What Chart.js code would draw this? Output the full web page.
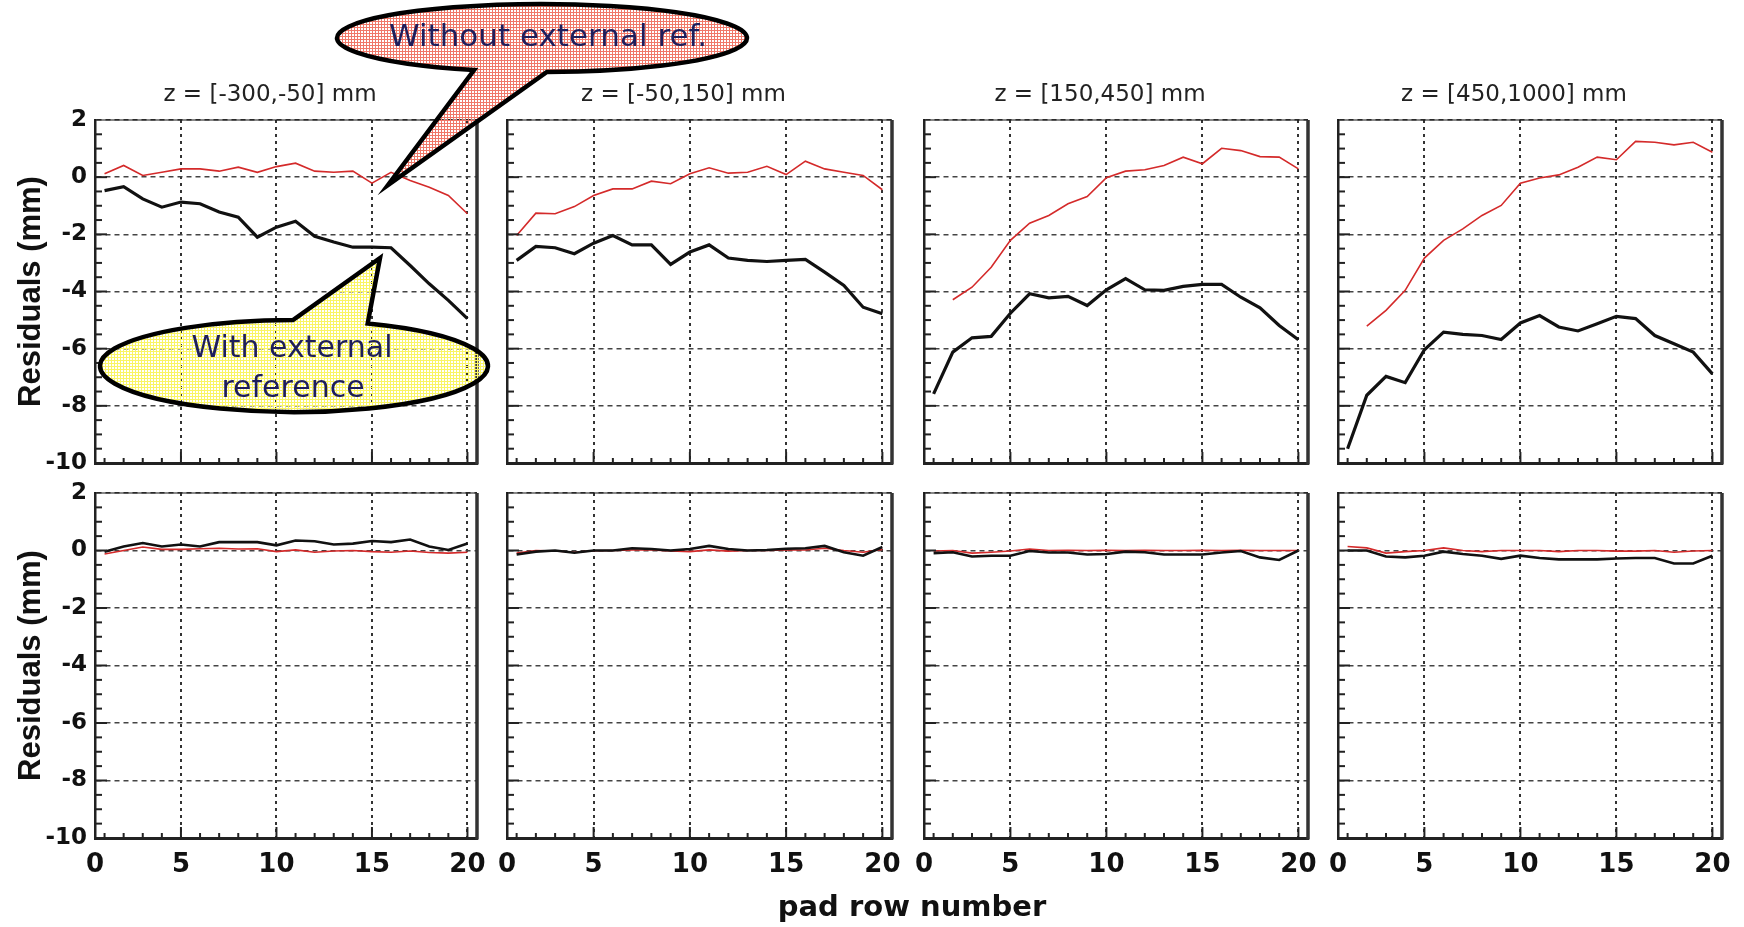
<!DOCTYPE html>
<html>
<head>
<meta charset="utf-8">
<script src="https://cdn.jsdelivr.net/npm/chart.js@4.4.0/dist/chart.umd.min.js"></script>
<style>
  html, body { margin: 0; padding: 0; background: #fff; }
  body { width: 1744px; height: 927px; position: relative; overflow: hidden; }
  canvas { position: absolute; }
</style>
</head>
<body>
<script>
// pad rows along x, z ranges per column
const padRows = [1, 2, 3, 4, 5, 6, 7, 8, 9, 10, 11, 12, 13, 14, 15, 16, 17, 18, 19, 20];
const zRanges = ['z = [-300,-50] mm', 'z = [-50,150] mm', 'z = [150,450] mm', 'z = [450,1000] mm'];
const xTickLabels = [0, 5, 10, 15, 20];
const yTickStep = 2;

// top row: red = without external ref, black = with external reference
const topRed1 = [0.12, 0.41, 0.06, 0.17, 0.29, 0.29, 0.21, 0.35, 0.17, 0.37, 0.49, 0.21, 0.17, 0.21, -0.21, 0.17, -0.12, -0.35, -0.64, -1.28];
const topBlack1 = [-0.47, -0.33, -0.76, -1.05, -0.87, -0.93, -1.22, -1.40, -2.10, -1.75, -1.54, -2.07, -2.27, -2.45, -2.45, -2.47, -3.09, -3.73, -4.31, -4.95];
const topRed2 = [-2.04, -1.26, -1.28, -1.03, -0.64, -0.41, -0.41, -0.14, -0.23, 0.12, 0.33, 0.14, 0.17, 0.38, 0.09, 0.56, 0.29, 0.17, 0.06, -0.44];
const topBlack2 = [-2.91, -2.42, -2.47, -2.68, -2.31, -2.04, -2.37, -2.37, -3.05, -2.62, -2.37, -2.83, -2.91, -2.95, -2.91, -2.88, -3.32, -3.79, -4.55, -4.78];
const topRed3 = [null, -4.29, -3.85, -3.15, -2.21, -1.61, -1.34, -0.93, -0.68, -0.02, 0.21, 0.26, 0.41, 0.70, 0.47, 1.01, 0.93, 0.72, 0.70, 0.29];
const topBlack3 = [-7.58, -6.12, -5.62, -5.57, -4.76, -4.08, -4.22, -4.17, -4.49, -3.94, -3.55, -3.94, -3.96, -3.82, -3.75, -3.75, -4.20, -4.57, -5.19, -5.69];
const topRed4 = [null, -5.21, -4.66, -3.96, -2.83, -2.21, -1.81, -1.34, -0.99, -0.21, -0.03, 0.08, 0.35, 0.70, 0.61, 1.25, 1.22, 1.13, 1.22, 0.87];
const topBlack4 = [-9.50, -7.63, -6.97, -7.19, -6.04, -5.42, -5.50, -5.54, -5.68, -5.10, -4.84, -5.24, -5.38, -5.13, -4.87, -4.95, -5.54, -5.83, -6.12, -6.88];

// bottom row
const botRed1 = [-0.12, 0.00, 0.12, 0.04, 0.04, 0.06, 0.08, 0.05, 0.06, -0.04, 0.02, -0.06, -0.02, 0.00, -0.04, -0.06, -0.02, -0.07, -0.09, -0.06];
const botBlack1 = [-0.04, 0.14, 0.26, 0.14, 0.21, 0.14, 0.29, 0.29, 0.29, 0.18, 0.35, 0.32, 0.21, 0.24, 0.33, 0.29, 0.38, 0.14, 0.02, 0.24];
const botRed2 = [-0.09, 0.00, -0.02, -0.06, -0.01, 0.00, 0.02, 0.02, -0.02, -0.04, 0.02, -0.02, 0.00, 0.00, 0.02, 0.02, 0.08, 0.00, -0.06, 0.04];
const botBlack2 = [-0.14, -0.04, 0.00, -0.08, 0.00, 0.00, 0.08, 0.05, 0.00, 0.05, 0.16, 0.05, 0.00, 0.02, 0.06, 0.08, 0.16, -0.06, -0.18, 0.12];
const botRed3 = [-0.02, 0.00, -0.09, -0.06, -0.02, 0.05, 0.00, 0.01, 0.00, 0.01, 0.00, 0.01, 0.00, 0.00, 0.01, 0.00, 0.01, 0.00, 0.00, 0.00];
const botBlack3 = [-0.09, -0.06, -0.21, -0.18, -0.18, -0.02, -0.07, -0.07, -0.14, -0.12, -0.04, -0.06, -0.14, -0.14, -0.14, -0.07, -0.02, -0.24, -0.33, 0.00];
const botRed4 = [0.14, 0.09, -0.09, -0.04, 0.00, 0.09, 0.00, -0.04, 0.00, 0.00, 0.00, -0.04, 0.00, 0.00, -0.02, -0.02, 0.00, -0.06, -0.02, 0.00];
const botBlack4 = [0.00, 0.00, -0.21, -0.24, -0.18, -0.04, -0.12, -0.18, -0.29, -0.18, -0.26, -0.31, -0.31, -0.31, -0.28, -0.26, -0.26, -0.45, -0.45, -0.18];

const tickFont = 'DejaVu Sans';
const noteColor = '#1e1e5c';

function toPoints(vals) {
  return padRows.map((r, i) => ({ x: r, y: vals[i] }));
}

// hatched fill like the original callouts
function hatch(color) {
  const t = document.createElement('canvas');
  t.width = 3; t.height = 3;
  const g = t.getContext('2d');
  g.fillStyle = color;
  g.fillRect(0, 0, 3, 1);
  g.fillRect(0, 0, 1, 3);
  return g.createPattern(t, 'repeat');
}

// box frame + inner ticks like ROOT
const framePlugin = {
  id: 'frame',
  afterDraw(chart) {
    const { ctx, chartArea: a, scales } = chart;
    ctx.save();
    ctx.strokeStyle = '#222';
    ctx.lineWidth = 2;
    for (let v = -9.5; v < 2; v += 0.5) {
      const y = scales.y.getPixelForValue(v);
      const len = (v % 2 === 0) ? 12 : 7;
      ctx.beginPath(); ctx.moveTo(a.left, y); ctx.lineTo(a.left + len, y); ctx.stroke();
    }
    for (let v = 1; v <= 20; v++) {
      const x = scales.x.getPixelForValue(v);
      const len = (v % 5 === 0) ? 11 : 5;
      ctx.beginPath(); ctx.moveTo(x, a.bottom); ctx.lineTo(x, a.bottom - len); ctx.stroke();
    }
    ctx.strokeStyle = '#111';
    ctx.lineWidth = 1.2;
    ctx.beginPath(); ctx.moveTo(a.left, a.top); ctx.lineTo(a.right, a.top); ctx.stroke();
    ctx.strokeStyle = '#333';
    ctx.lineWidth = 3.5;
    ctx.beginPath(); ctx.moveTo(a.right, a.top); ctx.lineTo(a.right, a.bottom + 1.5); ctx.stroke();
    ctx.restore();
  }
};

const panelTitlePlugin = {
  id: 'panelTitle',
  afterDraw(chart, args, opts) {
    if (!opts.text) return;
    const { ctx, chartArea: a } = chart;
    ctx.save();
    ctx.font = '23px "DejaVu Sans"';
    ctx.fillStyle = '#222';
    ctx.textAlign = 'center';
    ctx.textBaseline = 'middle';
    ctx.fillText(opts.text, (a.left + a.right) / 2 - 16, a.top - 25);
    ctx.restore();
  }
};

const xTitlePlugin = {
  id: 'xTitle',
  afterDraw(chart, args, opts) {
    if (!opts.text) return;
    const { ctx, chartArea: a } = chart;
    ctx.save();
    ctx.font = 'bold 29px "DejaVu Sans"';
    ctx.fillStyle = '#111';
    ctx.textAlign = 'center';
    ctx.textBaseline = 'middle';
    ctx.fillText(opts.text, a.left + 817, a.bottom + 70);
    ctx.restore();
  }
};

function drawCallout(ctx, a, b) {
  const cx = a.left + b.cx, cy = a.top + b.cy;
  const ang = p => Math.atan2((a.top + p[1] - cy) / b.ry, (a.left + p[0] - cx) / b.rx);
  ctx.save();
  ctx.beginPath();
  ctx.ellipse(cx, cy, b.rx, b.ry, 0, ang(b.from), ang(b.to), false);
  ctx.lineTo(a.left + b.tip[0], a.top + b.tip[1]);
  ctx.closePath();
  ctx.fillStyle = hatch(b.fill);
  ctx.fill();
  ctx.lineWidth = 4.5;
  ctx.lineJoin = 'miter';
  ctx.strokeStyle = '#000';
  ctx.stroke();
  ctx.fillStyle = noteColor;
  ctx.font = b.size + 'px "DejaVu Sans"';
  ctx.textAlign = 'center';
  ctx.textBaseline = 'middle';
  b.lines.forEach(l => ctx.fillText(l.text, a.left + l.x, a.top + l.y));
  ctx.restore();
}

const calloutPlugin = {
  id: 'callouts',
  afterDraw(chart, args, opts) {
    if (!opts.items) return;
    opts.items.forEach(b => drawCallout(chart.ctx, chart.chartArea, b));
  }
};

const callouts = [
  { cx: 447, cy: -82, rx: 205, ry: 34, from: [375, -48], to: [452, -47], tip: [293, 65],
    fill: 'rgb(240,120,105)', size: 31, lines: [{ text: 'Without external ref.', x: 453, y: -82 }] },
  { cx: 199, cy: 246, rx: 194, ry: 46, from: [270, 205], to: [198, 200], tip: [285, 138],
    fill: 'rgb(250,245,100)', size: 30, lines: [{ text: 'With external', x: 197, y: 229 }, { text: 'reference', x: 198, y: 269 }] }
];

function makePanel(p) {
  const c = document.createElement('canvas');
  c.width = p.w; c.height = p.h;
  c.style.left = p.x + 'px';
  c.style.top = p.y + 'px';
  c.style.zIndex = p.z || 1;
  document.body.appendChild(c);

  new Chart(c, {
    type: 'line',
    data: {
      datasets: [
        { label: 'With external reference', data: toPoints(p.black), borderColor: '#111',
          borderWidth: p.bottomRow ? 2.6 : 3.2, pointRadius: 0, tension: 0, fill: false },
        { label: 'Without external ref.', data: toPoints(p.red), borderColor: '#d42a2a',
          borderWidth: 1.6, pointRadius: 0, tension: 0, fill: false }
      ]
    },
    options: {
      responsive: false,
      animation: false,
      events: [],
      layout: { autoPadding: false, padding: { top: p.padTop, right: p.padRight, bottom: p.padBottom || 0, left: 0 } },
      scales: {
        x: {
          type: 'linear', min: 0.5, max: 20.5,
          afterBuildTicks: s => { s.ticks = xTickLabels.map(v => ({ value: v === 0 ? 0.5 : v })); },
          afterFit: s => { s.height = p.xh; },
          ticks: {
            display: p.bottomRow, autoSkip: false, maxRotation: 0, padding: 12, color: '#111',
            font: { family: tickFont, weight: 'bold', size: 26 },
            callback: v => (v < 1 ? '0' : String(v))
          },
          grid: { color: '#333', lineWidth: 2, drawTicks: false },
          border: { color: '#222', width: 3, dash: [3, 4] }
        },
        y: {
          min: -10, max: 2,
          afterFit: s => { s.width = p.yw; },
          ticks: {
            stepSize: yTickStep, display: p.firstCol, padding: 8, color: '#111',
            font: { family: tickFont, weight: 'bold', size: 23 }
          },
          grid: { color: '#444', lineWidth: 1.6, drawTicks: false },
          border: { color: '#222', width: 2.5, dash: [5, 4] },
          title: {
            display: p.firstCol, text: 'Residuals (mm)', color: '#111',
            font: { family: 'Liberation Sans, Arial, sans-serif', size: 31, weight: 'bold' },
            padding: { top: 13, bottom: 0 }
          }
        }
      },
      plugins: {
        legend: { display: false },
        tooltip: { enabled: false },
        panelTitle: { text: p.title || '' },
        xTitle: { text: p.xTitle || '' },
        callouts: { items: p.callouts || null }
      }
    },
    plugins: [framePlugin, panelTitlePlugin, xTitlePlugin, calloutPlugin]
  });
}

const colLeft = [95, 507, 924, 1338];
const colWidth = [382, 385, 384, 384];
const topReds = [topRed1, topRed2, topRed3, topRed4];
const topBlacks = [topBlack1, topBlack2, topBlack3, topBlack4];
const botReds = [botRed1, botRed2, botRed3, botRed4];
const botBlacks = [botBlack1, botBlack2, botBlack3, botBlack4];

// top row (plot area y 120..463)
for (let i = 0; i < 4; i++) {
  const first = i === 0;
  const yw = first ? 95 : 30;
  const xh = first ? 22 : 8;
  const padRight = first ? 293 : (i === 3 ? 22 : 30);
  const padTop = first ? 120 : 50;
  makePanel({
    x: colLeft[i] - yw, y: 120 - padTop,
    w: yw + colWidth[i] + padRight, h: padTop + 343 + xh,
    yw: yw, xh: xh, padTop: padTop, padRight: padRight,
    firstCol: first, bottomRow: false, title: zRanges[i],
    red: topReds[i], black: topBlacks[i],
    callouts: first ? callouts : null, z: first ? 5 : 1
  });
}

// bottom row (plot area y 493..838)
for (let i = 0; i < 4; i++) {
  const first = i === 0;
  const yw = first ? 95 : 30;
  const padRight = first ? 600 : (i === 3 ? 22 : 30);
  const padBottom = first ? 35 : 0;
  makePanel({
    x: colLeft[i] - yw, y: 440,
    w: yw + colWidth[i] + padRight, h: 53 + 345 + 50 + padBottom,
    yw: yw, xh: 50, padTop: 53, padRight: padRight, padBottom: padBottom,
    firstCol: first, bottomRow: true,
    red: botReds[i], black: botBlacks[i],
    xTitle: first ? 'pad row number' : null
  });
}
</script>
</body>
</html>
